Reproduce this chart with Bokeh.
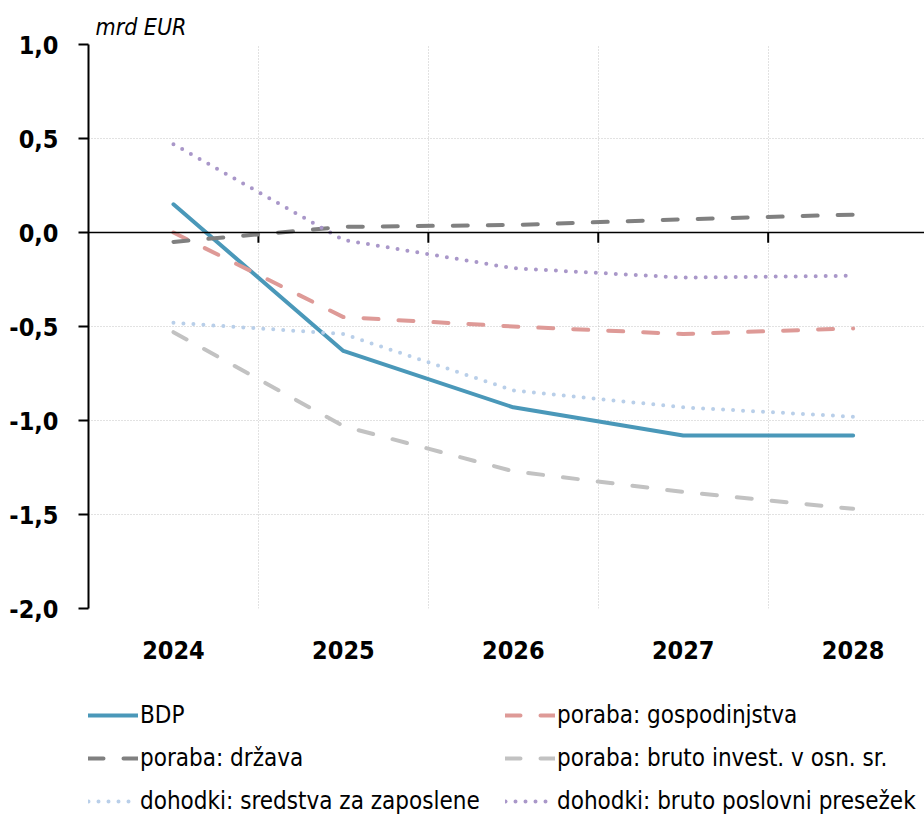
from bokeh.plotting import figure
from bokeh.layouts import column
from bokeh.models import (FixedTicker, Span, Legend, LegendItem, CustomJSTickFormatter, Range1d)
from bokeh.embed import file_html
from bokeh.resources import INLINE

years = [2024, 2025, 2026, 2027, 2028]
bdp = [0.15, -0.63, -0.93, -1.08, -1.08]
gospodinjstva = [0.0, -0.45, -0.50, -0.54, -0.51]
drzava = [-0.05, 0.03, 0.04, 0.07, 0.095]
invest = [-0.53, -1.03, -1.27, -1.38, -1.47]
sredstva = [-0.48, -0.54, -0.84, -0.93, -0.98]
presezek = [0.47, -0.04, -0.19, -0.24, -0.23]
y_ticks = [-2.0, -1.5, -1.0, -0.5, 0.0, 0.5, 1.0]
y_label = "mrd EUR"
names = ["BDP", "poraba: gospodinjstva", "poraba: država", "poraba: bruto invest. v osn. sr.",
         "dohodki: sredstva za zaposlene", "dohodki: bruto poslovni presežek"]
colors = ["#4a98b9", "#de9a97", "#808080", "#c2c2c2", "#b9cfe9", "#a997c9"]
dashes = ["solid", "15 20", "15 20", "15 20", "0 10", "0 10"]

FONT = "DejaVu Sans Condensed, Roboto"

p = figure(frame_width=836, frame_height=564,
           x_range=Range1d(years[0] - 0.5, years[-1] + 0.42), y_range=Range1d(-2.0, 1.0),
           output_backend="svg", toolbar_location=None,
           min_border_left=88, min_border_right=0, min_border_top=44, min_border_bottom=70)
p.outline_line_color = None
p.background_fill_color = "white"

p.title.text = y_label
p.title.align = "left"
p.title.offset = 7
p.title.text_font = FONT
p.title.text_font_size = "23px"
p.title.text_font_style = "italic"
p.title.text_color = "black"

# y axis
p.yaxis.ticker = FixedTicker(ticks=y_ticks)
p.yaxis.formatter = CustomJSTickFormatter(code="return tick.toFixed(1).replace('.', ',')")
p.yaxis.major_label_text_font = FONT
p.yaxis.major_label_text_font_size = "25px"
p.yaxis.major_label_text_font_style = "bold"
p.yaxis.major_label_text_color = "black"
p.yaxis.major_tick_out = 10
p.yaxis.major_tick_in = 0
p.yaxis.minor_tick_out = 0
p.yaxis.minor_tick_in = 0
p.yaxis.axis_line_color = "black"
p.yaxis.axis_line_width = 2
p.yaxis.major_tick_line_color = "black"
p.yaxis.major_tick_line_width = 2
p.yaxis.major_label_standoff = 20

# x axis (labels only)
p.xaxis.ticker = FixedTicker(ticks=years)
p.xaxis.major_label_text_font = FONT
p.xaxis.major_label_text_font_size = "25px"
p.xaxis.major_label_text_font_style = "bold"
p.xaxis.major_label_text_color = "black"
p.xaxis.axis_line_color = None
p.xaxis.major_tick_line_color = None
p.xaxis.minor_tick_line_color = None
p.xaxis.major_label_standoff = 26

# grids
p.xgrid.ticker = FixedTicker(ticks=[y + 0.5 for y in years])
p.ygrid.ticker = FixedTicker(ticks=y_ticks)
for g in (p.xgrid, p.ygrid):
    g.grid_line_color = "#c4c4c4"
    g.grid_line_dash = "1 2"
    g.grid_line_width = 1

# zero line and its ticks
p.add_layout(Span(location=0, dimension="width", line_color="black", line_width=1.5))
p.segment(x0=[y + 0.5 for y in years[:-1]], y0=[0] * (len(years) - 1),
          x1=[y + 0.5 for y in years[:-1]], y1=[-0.055] * (len(years) - 1),
          line_color="black", line_width=2)

series = [bdp, gospodinjstva, drzava, invest, sredstva, presezek]
for vals, c, d in zip(series, colors, dashes):
    p.line(years, vals, line_color=c, line_width=4, line_dash=d,
           line_cap="round", line_join="round")

# legend figure (series drawn outside its visible range, used only for legend glyphs)
lf = figure(width=924, height=140, x_range=Range1d(0, 1), y_range=Range1d(0, 1),
            output_backend="svg", toolbar_location=None,
            x_axis_location=None, y_axis_location=None,
            min_border_left=0, min_border_right=0, min_border_top=0, min_border_bottom=0)
lf.grid.visible = False
lf.outline_line_color = None
rs = [lf.line(years, vals, line_color=c, line_width=4, line_dash=d, line_cap="round")
      for vals, c, d in zip(series, colors, dashes)]

def make_legend(idx, x):
    lg = Legend(items=[LegendItem(label=names[i], renderers=[rs[i]]) for i in idx],
                location=(x, 3), orientation="vertical")
    lg.label_text_font = FONT
    lg.label_text_font_size = "24px"
    lg.label_text_color = "black"
    lg.glyph_width = 50
    lg.glyph_height = 20
    lg.label_height = 20
    lg.label_standoff = 2
    lg.spacing = 15
    lg.padding = 0
    lg.margin = 0
    lg.border_line_color = None
    lg.background_fill_alpha = 0
    return lg

lf.add_layout(make_legend([0, 2, 4], 0), "center")
lf.add_layout(make_legend([1, 3, 5], 417), "center")

layout = column(p, lf, spacing=0)
open("out.html", "w").write(file_html(layout, INLINE))
